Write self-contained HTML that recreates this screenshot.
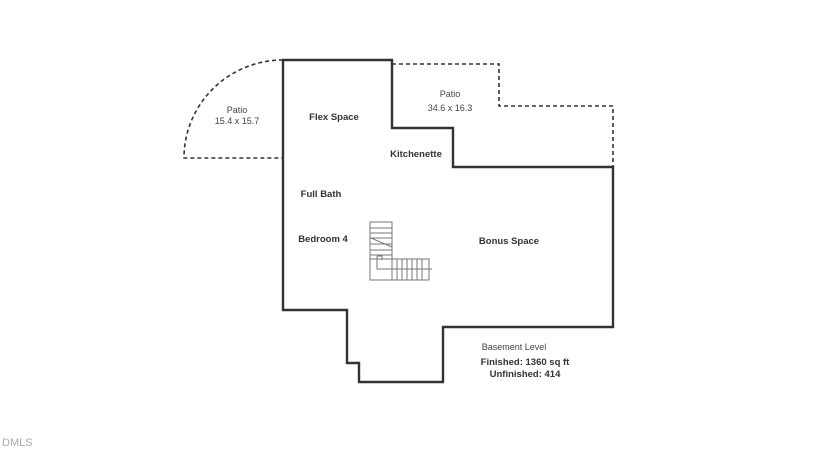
<!DOCTYPE html>
<html><head><style>body{margin:0;background:#fff}svg{display:block}</style></head><body>
<svg width="825" height="464" viewBox="0 0 825 464" xmlns="http://www.w3.org/2000/svg" font-family="Liberation Sans, sans-serif">
<g fill="none" stroke="#333" stroke-width="1.6" stroke-dasharray="4,3">
<path d="M283,60 A99,98 0 0 0 184,158 L283,158"/>
<path d="M392,64 L499,64 L499,106 L613,106 L613,167"/>
</g>
<path d="M283,60 L392,60 L392,128 L453,128 L453,167 L613,167 L613,327 L443,327 L443,382 L359,382 L359,363 L347,363 L347,310 L283,310 Z" fill="none" stroke="#333" stroke-width="2.4"/>
<g fill="none" stroke="#777" stroke-width="1">
<rect x="370" y="222" width="22" height="58"/>
<rect x="392" y="259" width="37" height="21"/>
<path d="M370,228H392M370,233H392M370,238H392M370,244H392M370,250H392M370,255H392M370,259H392"/>
<path d="M397,259V280M402,259V280M407,259V280M412,259V280M417,259V280M422,259V280"/>
<path d="M371,238L392,247M377,256V269H432M377,256H382V260"/>
</g>
<g font-size="9" fill="#444" text-anchor="middle">
<text x="237" y="113">Patio</text><text x="237" y="124">15.4 x 15.7</text>
<text x="450" y="97">Patio</text><text x="450" y="111">34.6 x 16.3</text>
<text x="514" y="350">Basement Level</text>
</g>
<g font-size="9.5" font-weight="bold" fill="#333" text-anchor="middle">
<text x="334" y="120">Flex Space</text>
<text x="416" y="157">Kitchenette</text>
<text x="321" y="197">Full Bath</text>
<text x="323" y="242">Bedroom 4</text>
<text x="509" y="244">Bonus Space</text>
<text x="525" y="365">Finished: 1360 sq ft</text>
<text x="525" y="377">Unfinished: 414</text>
</g>
<text x="2" y="446" font-size="11" fill="#aaa">DMLS</text>
</svg>
</body></html>
